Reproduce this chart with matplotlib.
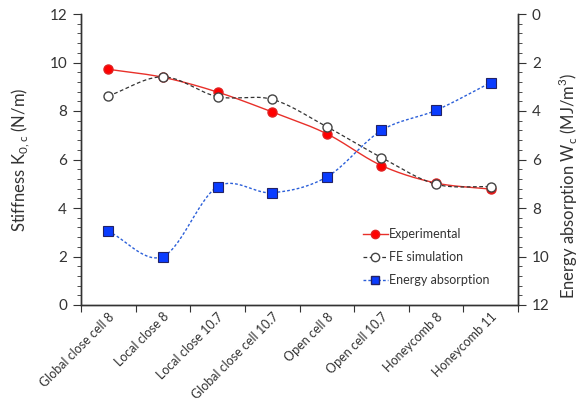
import numpy as np
import matplotlib
matplotlib.use("Agg")
import matplotlib.pyplot as plt
from matplotlib.ticker import MultipleLocator, FixedLocator, NullFormatter
from matplotlib.lines import Line2D

categories = ["Global close cell 8", "Local close 8", "Local close 10.7",
              "Global close cell 10.7", "Open cell 8", "Open cell 10.7",
              "Honeycomb 8", "Honeycomb 11"]
experimental = [9.72, 9.39, 8.78, 7.96, 7.06, 5.75, 5.03, 4.78]
fe_simulation = [8.62, 9.41, 8.59, 8.48, 7.35, 6.08, 4.98, 4.88]
energy_absorption = [8.96, 10.0, 7.12, 7.37, 6.72, 4.80, 3.97, 2.83]

plt.rcParams['font.family'] = ['Lato', 'DejaVu Sans']
TXT = '#333333'


def smooth(x, y, n=30):
    x = np.asarray(x, float); y = np.asarray(y, float)
    P = np.column_stack([x, y])
    P = np.vstack([2 * P[0] - P[1], P, 2 * P[-1] - P[-2]])
    out = []
    t = np.linspace(0, 1, n)[:, None]
    for i in range(1, len(P) - 2):
        p0, p1, p2, p3 = P[i - 1], P[i], P[i + 1], P[i + 2]
        seg = 0.5 * ((2 * p1) + (-p0 + p2) * t + (2 * p0 - 5 * p1 + 4 * p2 - p3) * t ** 2
                     + (-p0 + 3 * p1 - 3 * p2 + p3) * t ** 3)
        out.append(seg if i == 1 else seg[1:])
    out = np.vstack(out)
    return out[:, 0], out[:, 1]


fig = plt.figure(figsize=(5.82, 4.01), dpi=100)
ax = fig.add_axes([81 / 582, 1 - 305 / 401, (518 - 81) / 582, (305 - 14) / 401])
ax2 = ax.twinx()

x = np.arange(len(categories))

sx, sy = smooth(x, experimental)
ax.plot(sx, sy, color='#e8302a', lw=1.0, zorder=3)
ax.plot(x, experimental, 'o', color='#ff0000', mec='#e02020', ms=6.5, zorder=4)

sx, sy = smooth(x, fe_simulation)
ax.plot(sx, sy, color='#333333', lw=0.9, ls=(0, (3, 2)), zorder=3)
ax.plot(x, fe_simulation, 'o', mfc='white', mec='#444444', mew=1.0, ms=6.5, zorder=4)

sx, sy = smooth(x, energy_absorption)
ax2.plot(sx, sy, color='#2b5fd9', lw=1.0, ls=(0, (2, 1.5)), zorder=3)
ax2.plot(x, energy_absorption, 's', mfc='#0a3cff', mec='#222266', mew=0.8, ms=7, zorder=4)

ax.set_xlim(-0.5, len(categories) - 0.5)
ax.set_ylim(0, 12)
ax2.set_ylim(12, 0)

ax.xaxis.set_major_locator(FixedLocator(np.arange(-0.5, len(categories), 1.0)))
ax.xaxis.set_major_formatter(NullFormatter())
ax.xaxis.set_minor_locator(FixedLocator(x))
ax.set_xticklabels(categories, minor=True, rotation=45, ha='right', rotation_mode='anchor',
                   fontsize=9, color=TXT)
ax.tick_params(axis='x', which='minor', length=0, pad=4)
ax.tick_params(axis='x', which='major', length=5, direction='out', color=TXT)

for a in (ax, ax2):
    a.yaxis.set_major_locator(MultipleLocator(2))
    a.yaxis.set_minor_locator(MultipleLocator(0.4))
    a.tick_params(axis='y', which='major', length=6, direction='out', labelsize=11,
                  colors=TXT, pad=4)
    a.tick_params(axis='y', which='minor', length=3, direction='out', colors=TXT)
    for s in a.spines.values():
        s.set_color(TXT)
        s.set_linewidth(1.0)
ax.spines['top'].set_visible(False)
ax2.spines['top'].set_visible(False)

ax.set_ylabel(r'Stiffness K$_{\mathregular{0,c}}$ (N/m)', fontsize=12, color=TXT)
ax2.set_ylabel(r'Energy absorption W$_{\mathregular{c}}$ (MJ/m$^{\mathregular{3}}$)',
               fontsize=12, color=TXT)
ax.yaxis.set_label_coords(-0.112, 0.5)
ax2.yaxis.set_label_coords(1.09, 0.41)

handles = [
    Line2D([], [], color='#e8302a', lw=1.0, marker='o', mfc='#ff0000', mec='#e02020', ms=6),
    Line2D([], [], color='#333333', lw=0.9, ls=(0, (3, 2)), marker='o', mfc='white', mec='#444444', ms=6),
    Line2D([], [], color='#2b5fd9', lw=1.0, ls=(0, (2, 1.5)), marker='s', mfc='#0a3cff', mec='#222266', ms=6),
]
leg = ax.legend(handles, ['Experimental', 'FE simulation', 'Energy absorption'],
                loc='lower right', bbox_to_anchor=(0.96, 0.025), frameon=False, fontsize=9,
                handlelength=2.0, handletextpad=0.1, labelspacing=0.9)
for t in leg.get_texts():
    t.set_color(TXT)

fig.savefig('out.png', dpi=100)
